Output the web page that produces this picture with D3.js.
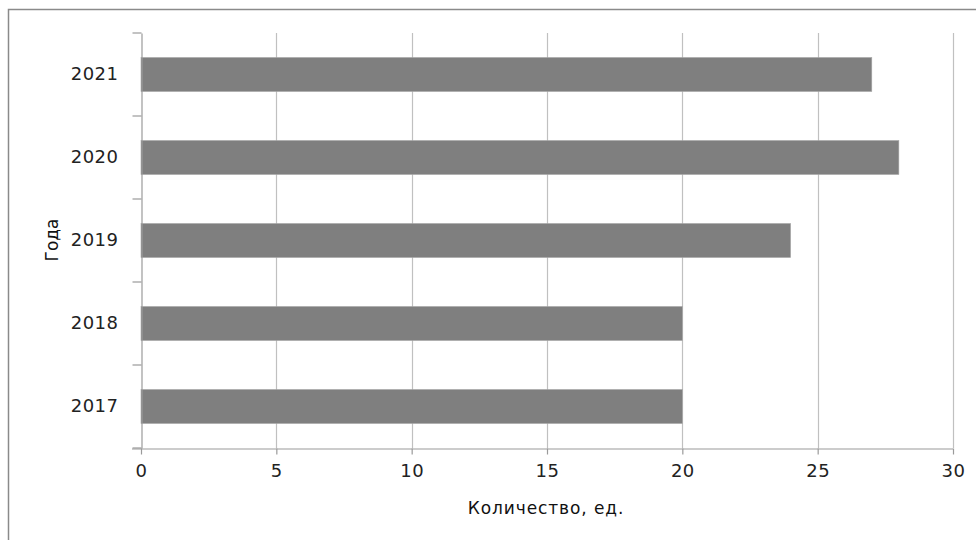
<!DOCTYPE html>
<html><head><meta charset="utf-8">
<script src="https://cdn.jsdelivr.net/npm/d3@7"></script>
<style>
html,body{margin:0;padding:0;background:#fff;}
svg{display:block;}
</style></head>
<body>
<svg id="chart" width="976" height="540"></svg>
<script>
const categories = ["2017", "2018", "2019", "2020", "2021"];
const values = [20, 20, 24, 28, 27];
const xTicks = [0, 5, 10, 15, 20, 25, 30];
const xTitle = "Количество, ед.";
const yTitle = "Года";

const svg = d3.select("#chart");
const W = 976, H = 540;
const m = {left: 141, right: 23, top: 33, bottom: 92};
const pw = W - m.left - m.right, ph = H - m.top - m.bottom;

// outer frame (top + left)
svg.append("path").attr("d", `M8.5,540 V9.5 H976`).attr("fill","none").attr("stroke","#8a8a8a").attr("stroke-width",1.5);

const x = d3.scaleLinear().domain([0, 30]).range([m.left, m.left + pw]);
const y = d3.scaleBand().domain(categories.slice().reverse()).range([m.top, m.top + ph]).paddingInner(0.59).paddingOuter(0.295);

const g = svg.append("g");
// grid
g.selectAll(".grid").data(xTicks.slice(1)).join("line")
  .attr("x1", d => Math.round(x(d)) + 0.5).attr("x2", d => Math.round(x(d)) + 0.5)
  .attr("y1", m.top).attr("y2", m.top + ph)
  .attr("stroke", "#c0c0c0").attr("stroke-width", 1.2);

// bars
g.selectAll(".bar").data(categories).join("rect")
  .attr("x", x(0)).attr("y", d => y(d))
  .attr("width", (d, i) => x(values[i]) - x(0))
  .attr("height", y.bandwidth())
  .attr("fill", "#7f7f7f").attr("stroke", "#a8a8a8").attr("stroke-width", 0.6);

// x axis
const xAxis = d3.axisBottom(x).tickValues(xTicks).tickSize(6).tickPadding(10).tickSizeOuter(0);
const gx = svg.append("g").attr("transform", `translate(0,${m.top + ph + 0.5})`).call(xAxis);
gx.select(".domain").attr("d", `M${m.left - 9},0.5H${x(30)}`).attr("stroke", "#9a9a9a").attr("stroke-width", 1.2);
gx.selectAll(".tick line").attr("stroke", "#9a9a9a").attr("stroke-width", 1.2);
gx.selectAll(".tick text").attr("font-family", "DejaVu Sans, sans-serif").attr("font-size", 18).attr("letter-spacing", 0.5).attr("fill", "#222");

// y axis
const yAxis = d3.axisLeft(y).tickSize(0).tickPadding(23);
const gy = svg.append("g").attr("transform", `translate(${m.left + 0.5},0)`).call(yAxis);
gy.select(".domain").attr("stroke", "#9a9a9a").attr("stroke-width", 1.2);
gy.selectAll(".tick text").attr("font-family", "DejaVu Sans, sans-serif").attr("font-size", 18).attr("letter-spacing", 0.5).attr("fill", "#222");
// category boundary ticks
const step = y.step();
const bounds = d3.range(categories.length + 1).map(i => m.top + i * step);
gy.selectAll(".bt").data(bounds).join("line")
  .attr("x1", -9).attr("x2", 0).attr("y1", d => d).attr("y2", d => d)
  .attr("stroke", "#9a9a9a").attr("stroke-width", 1.2);

// titles
svg.append("text").attr("x", 546).attr("y", 514).attr("text-anchor", "middle")
  .attr("font-family", "DejaVu Sans, sans-serif").attr("font-size", 17).attr("letter-spacing", 0.9).attr("fill", "#111").text(xTitle);
svg.append("text").attr("transform", "translate(58,240) rotate(-90)").attr("text-anchor", "middle")
  .attr("font-family", "DejaVu Sans, sans-serif").attr("font-size", 17).attr("fill", "#111").text(yTitle);
</script>
</body></html>
